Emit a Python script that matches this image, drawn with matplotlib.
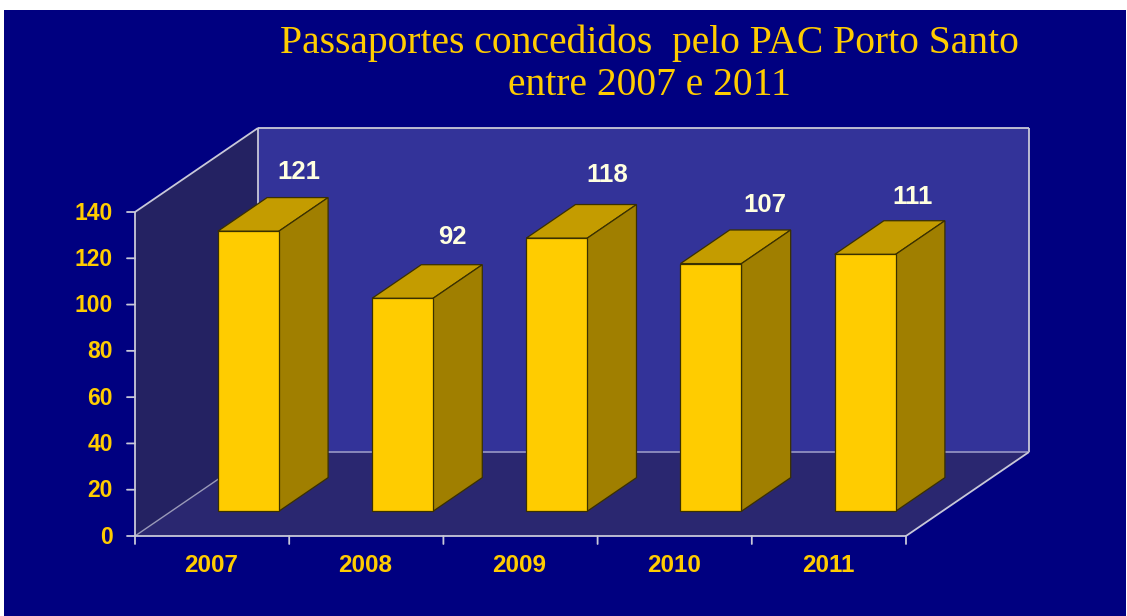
import matplotlib
matplotlib.use("Agg")
import matplotlib.pyplot as plt
from matplotlib.patches import Polygon, Rectangle

years = ["2007", "2008", "2009", "2010", "2011"]
values = [121, 92, 118, 107, 111]
yticks = [0, 20, 40, 60, 80, 100, 120, 140]
title = "Passaportes concedidos  pelo PAC Porto Santo\nentre 2007 e 2011"

W, H = 1127, 616
BG = "#000080"
BACK = "#333399"
SIDE = "#242262"
FLOOR = "#2a2770"
GOLD = "#ffcc00"
TOP = "#c49c00"
RIGHT = "#a07f00"
EDGE = "#3a3000"
GRID = "#c8c8d8"

fig = plt.figure(figsize=(W / 100, H / 100), dpi=100, facecolor="white")
fig.add_artist(Rectangle((4 / W, 0), (W - 5) / W, (H - 10) / H, transform=fig.transFigure,
                         fc=BG, ec="none", zorder=-5))
L, R, T, B = 135, 906, 212, 536
ax = fig.add_axes([L / W, 1 - B / H, (R - L) / W, (B - T) / H])
ax.set_xlim(-0.5, 4.5)
ax.set_ylim(0, 140)
ax.axis("off")

# oblique depth vector for d = 1, in data units
DX = 123 / ((R - L) / 5)
DY = 84 / ((B - T) / 140)


def proj(x, y, d):
    return (x + d * DX, y + d * DY)


def poly(pts, fc, ec="none", lw=0.0, z=1):
    ax.add_patch(Polygon(pts, closed=True, fc=fc, ec=ec, lw=lw, zorder=z,
                         clip_on=False, joinstyle="miter"))


x0, x1, y0, y1 = -0.5, 4.5, 0, 140
poly([proj(x0, y0, 1), proj(x1, y0, 1), proj(x1, y1, 1), proj(x0, y1, 1)], BACK, z=1)
poly([proj(x0, y0, 0), proj(x0, y0, 1), proj(x0, y1, 1), proj(x0, y1, 0)], SIDE, z=1)
poly([proj(x0, y0, 0), proj(x1, y0, 0), proj(x1, y0, 1), proj(x0, y0, 1)], FLOOR, z=1)


def edge(a, b, lw=1.3, c=GRID):
    ax.plot([a[0], b[0]], [a[1], b[1]], color=c, lw=lw, zorder=2, clip_on=False,
            solid_capstyle="butt")


edge(proj(x0, y1, 0), proj(x0, y1, 1))
edge(proj(x0, y1, 1), proj(x1, y1, 1))
edge(proj(x1, y1, 1), proj(x1, y0, 1))
edge(proj(x0, y1, 1), proj(x0, y0, 1))
edge(proj(x0, y0, 1), proj(x1, y0, 1), c="#8f8fc0")
edge(proj(x1, y0, 0), proj(x1, y0, 1))
edge(proj(x0, y0, 0), proj(x0, y0, 1), c="#9a9ab8", lw=1.0)
edge(proj(x0, y0, 0), proj(x1, y0, 0))
edge(proj(x0, y0, 0), proj(x0, y1, 0))

# ticks
for v in yticks:
    ax.annotate("", xy=(x0, v), xytext=(-8, 0), textcoords="offset pixels",
                annotation_clip=False,
                arrowprops=dict(arrowstyle="-", color=GRID, lw=1.3, shrinkA=0, shrinkB=0))
    ax.annotate(str(v), xy=(x0, v), xytext=(-22, -1), textcoords="offset pixels",
                ha="right", va="center", color=GOLD, fontsize=16.5, fontweight="bold",
                family="Liberation Sans", annotation_clip=False)
for i in range(len(years) + 1):
    ax.annotate("", xy=(i - 0.5, 0), xytext=(0, -8), textcoords="offset pixels",
                annotation_clip=False,
                arrowprops=dict(arrowstyle="-", color=GRID, lw=1.3, shrinkA=0, shrinkB=0))
for i, y in enumerate(years):
    ax.annotate(y, xy=(i, 0), xytext=(-1, -30), textcoords="offset pixels",
                ha="center", va="center", color=GOLD, fontsize=17.5, fontweight="bold",
                family="Liberation Sans", annotation_clip=False)

# bars
BW = 61 / ((R - L) / 5)
D0, D1 = 0.295, 0.695
for i, v in enumerate(values):
    a, b = i - BW / 2, i + BW / 2
    poly([proj(a, v, D0), proj(b, v, D0), proj(b, v, D1), proj(a, v, D1)], TOP, EDGE, 0.9, 3)
    poly([proj(b, 0, D0), proj(b, 0, D1), proj(b, v, D1), proj(b, v, D0)], RIGHT, EDGE, 0.9, 3)
    poly([proj(a, 0, D0), proj(b, 0, D0), proj(b, v, D0), proj(a, v, D0)], GOLD, EDGE, 0.9, 4)

# data labels
label_off = [(1, 26), (1, 28), (1, 30), (5, 25), (-2, 24)]
for i, v in enumerate(values):
    px, py = proj(i, v, D1)
    ax.annotate(str(v), xy=(px, py), xytext=label_off[i], textcoords="offset pixels",
                ha="center", va="center", color="#ffffe0", fontsize=18.5, fontweight="bold",
                family="Liberation Sans", zorder=6, annotation_clip=False)

fig.text(649 / W, 1 - 64 / H, title, ha="center", va="center", color=GOLD,
         fontsize=28.5, family="Liberation Serif", linespacing=1.17)

fig.savefig("out.png", dpi=100, facecolor="white")
